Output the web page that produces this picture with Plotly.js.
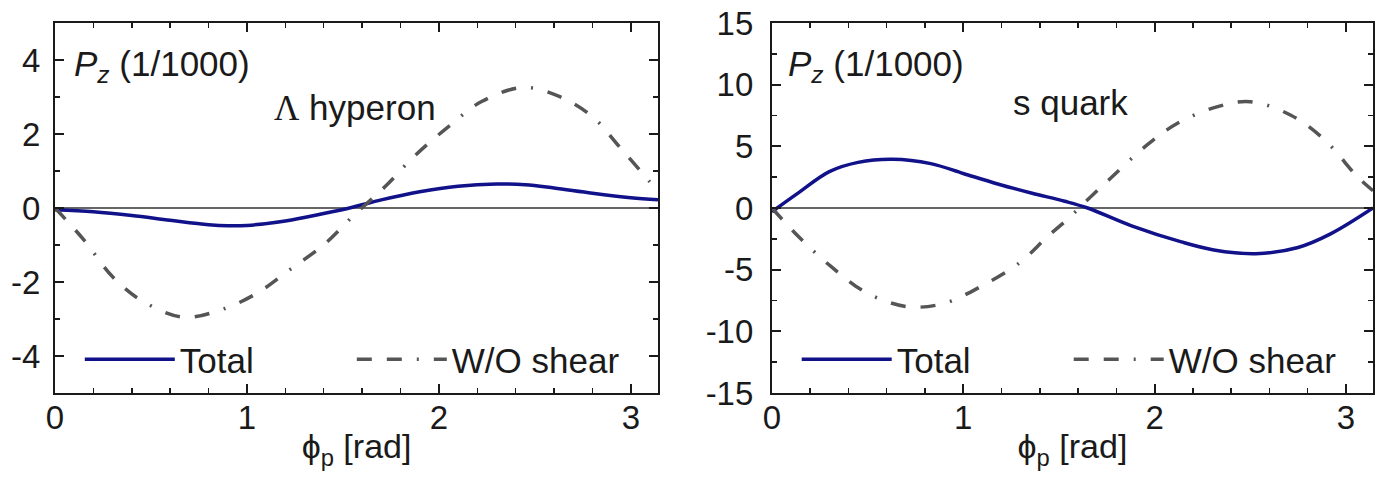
<!DOCTYPE html>
<html><head><meta charset="utf-8">
<script src="https://cdn.plot.ly/plotly-3.0.1.min.js"></script>
<style>html,body{margin:0;padding:0;background:#fff}#chart{width:1376px;height:482px}</style>
</head><body><div id="chart"></div>
<script>
// ---- data ----
const phiLTotal = [0, 0.2, 0.4, 0.6, 0.8, 0.9, 1.0, 1.2, 1.4, 1.55, 1.7, 1.9, 2.1, 2.3, 2.45, 2.6, 2.8, 3.0, 3.1416];
const totalL    = [-0.05, -0.1, -0.2, -0.33, -0.45, -0.48, -0.47, -0.35, -0.15, 0.02, 0.22, 0.44, 0.59, 0.65, 0.63, 0.54, 0.40, 0.28, 0.22];
const phiLWo    = [0, 0.15, 0.3, 0.46, 0.67, 0.86, 1.05, 1.22, 1.41, 1.55, 1.72, 1.87, 2.05, 2.22, 2.44, 2.63, 2.8, 2.94, 3.09, 3.1416];
const woL       = [0, -0.86, -1.86, -2.53, -2.95, -2.76, -2.31, -1.68, -0.95, -0.23, 0.58, 1.39, 2.2, 2.87, 3.26, 3.01, 2.47, 1.66, 0.76, 0.45];

const phiRTotal = [0, 0.14, 0.3, 0.45, 0.63, 0.83, 1.0, 1.18, 1.36, 1.53, 1.65, 1.88, 2.14, 2.31, 2.53, 2.75, 2.92, 3.1416];
const totalR    = [-0.3, 1.25, 2.95, 3.7, 3.95, 3.6, 2.8, 1.95, 1.2, 0.55, 0.0, -1.45, -2.75, -3.4, -3.7, -3.2, -2.1, 0];
const phiRWo    = [0, 0.14, 0.31, 0.5, 0.71, 0.9, 1.09, 1.29, 1.44, 1.56, 1.63, 1.77, 1.95, 2.12, 2.33, 2.5, 2.71, 2.89, 3.06, 3.1416];
const woR       = [0, -2.33, -4.76, -6.92, -8.0, -7.73, -6.38, -4.49, -2.33, -0.7, 0.38, 2.41, 4.97, 6.87, 8.22, 8.62, 7.54, 5.51, 2.54, 1.4];

const xTicks     = [0, 1, 2, 3];
const xTickText  = ['0', '1', '2', '3'];
const yTicksL    = [-4, -2, 0, 2, 4];
const yTickTextL = ['-4', '-2', '0', '2', '4'];
const yTicksR    = [-15, -10, -5, 0, 5, 10, 15];
const yTickTextR = ['-15', '-10', '-5', '0', '5', '10', '15'];
const seriesNames = ['Total', 'W/O shear'];
const panelLabels = ['<span style="font-family:\'Liberation Serif\'">Λ</span> hyperon', 's quark'];
const yLabel = '<i>P</i><sub><i>z</i></sub> (1/1000)';
const xLabel = 'ϕ<sub>p</sub> [rad]';

// ---- style ----
const FONT = 'Liberation Sans, Arial, Helvetica, sans-serif';
const INK = '#1a1a1a';
const NAVY = '#11118a';
const GRAY = '#555555';
const DASH = '15px,15px,15px,15px,2px,15px';

function line(x, y, xa, ya, name, color, dash, leg) {
  return {x: x, y: y, xaxis: xa, yaxis: ya, name: name, mode: 'lines', legend: leg,
          line: {color: color, width: 3.5, dash: dash, shape: 'spline', smoothing: 1}};
}
const traces = [
  line(phiLTotal, totalL, 'x', 'y', seriesNames[0], NAVY, 'solid', 'legend'),
  line(phiLWo, woL, 'x', 'y', seriesNames[1], GRAY, DASH, 'legend'),
  line(phiRTotal, totalR, 'x2', 'y2', seriesNames[0], NAVY, 'solid', 'legend2'),
  line(phiRWo, woR, 'x2', 'y2', seriesNames[1], GRAY, DASH, 'legend2')
];

function xAxis(domain, anchor) {
  return {domain: domain, anchor: anchor, range: [0, Math.PI], tickmode: 'array',
    tickvals: xTicks, ticktext: xTickText, ticks: 'inside', ticklen: 9, tickwidth: 2, tickcolor: INK,
    minor: {tick0: 0, dtick: 0.2, ticks: 'inside', ticklen: 5, tickwidth: 1.5, tickcolor: INK, showgrid: false},
    showline: true, linewidth: 2, linecolor: INK, mirror: 'ticks', showgrid: false, zeroline: false,
    tickfont: {family: FONT, size: 33, color: INK}, ticklabelstandoff: -6,
    title: {text: xLabel, font: {family: FONT, size: 34, color: INK}, standoff: 0},
    fixedrange: true};
}
function yAxis(domain, anchor, range, vals, text, minorD, standoff) {
  return {domain: domain, anchor: anchor, range: range, tickmode: 'array',
    tickvals: vals, ticktext: text, ticks: 'inside', ticklen: 9, tickwidth: 2, tickcolor: INK,
    minor: {tick0: 0, dtick: minorD, ticks: 'inside', ticklen: 5, tickwidth: 1.5, tickcolor: INK, showgrid: false},
    showline: true, linewidth: 2, linecolor: INK, mirror: 'ticks', showgrid: false,
    zeroline: true, zerolinecolor: '#666666', zerolinewidth: 1.5,
    tickfont: {family: FONT, size: 33, color: INK}, ticklabelstandoff: standoff,
    fixedrange: true};
}

const yDom = [0.1846, 0.9523];
function legend(x) {
  return {orientation: 'h', x: x, y: 0.254, xanchor: 'left', yanchor: 'middle',
    bgcolor: 'rgba(0,0,0,0)', borderwidth: 0, itemwidth: 90, entrywidth: 167,
    font: {family: FONT, size: 35, color: INK}, tracegroupgap: 0};
}
function ann(xref, yref, x, y, text, xanchor) {
  return {xref: xref, yref: yref, x: x, y: y, text: text, showarrow: false,
    xanchor: xanchor, yanchor: 'middle', font: {family: FONT, size: 35, color: INK}};
}

const layout = {
  width: 1376, height: 482, margin: {l: 0, r: 0, t: 0, b: 0},
  paper_bgcolor: '#ffffff', plot_bgcolor: '#ffffff', showlegend: true,
  xaxis: xAxis([0.0400, 0.4782], 'y'),
  yaxis: yAxis(yDom, 'x', [-5, 5], yTicksL, yTickTextL, 1, 6),
  xaxis2: xAxis([0.5610, 0.9978], 'y2'),
  yaxis2: yAxis(yDom, 'x2', [-15, 15], yTicksR, yTickTextR, 2.5, 10),
  legend: legend(0.058),
  legend2: legend(0.579),
  annotations: [
    ann('x domain', 'y domain', 0.028, 0.885, yLabel, 'left'),
    ann('x domain', 'y domain', 0.497, 0.770, panelLabels[0], 'center'),
    ann('x2 domain', 'y2 domain', 0.024, 0.885, yLabel, 'left'),
    ann('x2 domain', 'y2 domain', 0.496, 0.784, panelLabels[1], 'center')
  ]
};

Plotly.newPlot('chart', traces, layout, {displayModeBar: false, staticPlot: true});
</script>
</body></html>
